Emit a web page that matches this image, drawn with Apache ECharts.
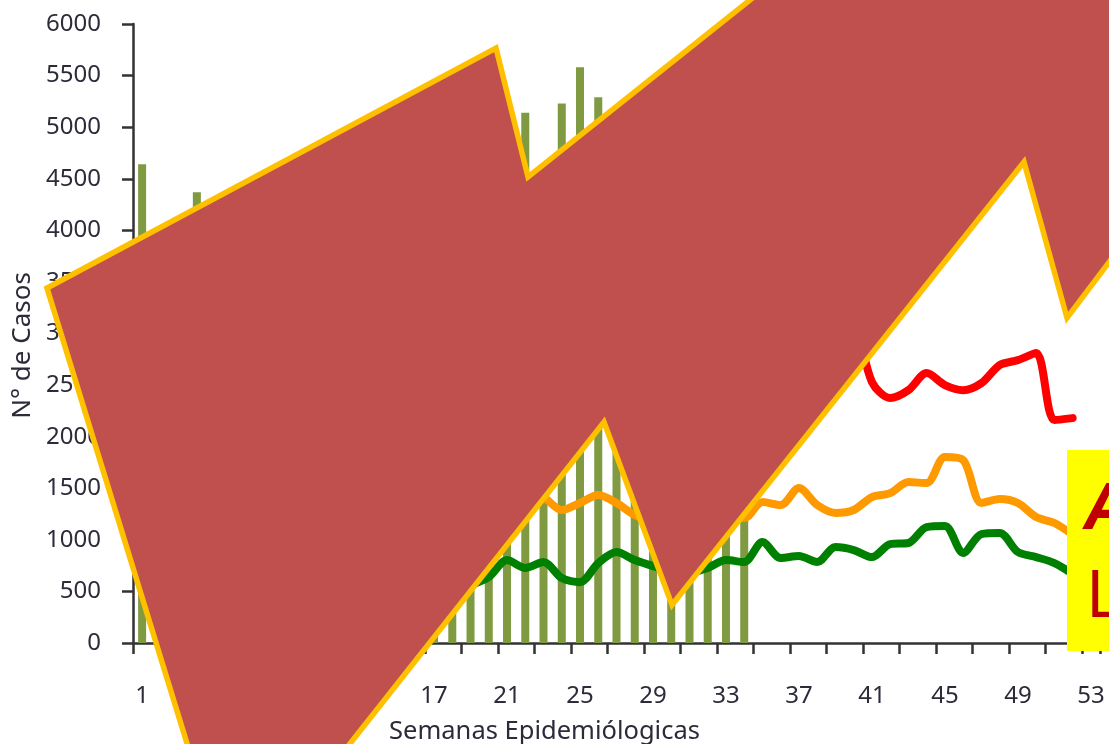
<!DOCTYPE html>
<html>
<head>
<meta charset="utf-8">
<style>html,body{margin:0;padding:0;background:#fff;overflow:hidden}#chart{width:1109px;height:744px}</style>
<script src="https://cdn.jsdelivr.net/npm/echarts@6/dist/echarts.min.js"></script>
</head>
<body>
<div id="chart"></div>
<script>
// Epidemiological weeks 1-53
const weeks = Array.from({length: 53}, (_, i) => String(i + 1));

// Weekly case counts (bars stop at week 34)
const casos = [4640, 3900, 3750, 4370, 3900, 3800, 3700, 3650, 3600, 3550, 3600, 3700, 3800, 3900, 4000, 4100, 4200,
  4300, 4400, 4600, 4850, 5140, 4600, 5230, 5580, 5290, 4800, 4400, 4100, 3700, 3300, 2900, 2500, 2100];

// Epidemic channel curves, weeks where they are drawn; blank elsewhere
const zonaExito = [null, null, null, null, null, null, null, null, null, null, null, null, null, null, null, null, null, null,
  560, 640, 804, 727, 785, 630, 590, 775, 882, 804, 746, 700, 680, 727, 804, 785,
  979, 824, 843, 785, 930, 901, 833, 959, 969, 1124, 1134, 872, 1056, 1066, 882, 833, 775, 670];
const zonaSeguridad = [null, null, null, null, null, null, null, null, null, null, null, null, null, null, null, null, null, null, null, null, null,
  1500, 1415, 1289, 1357, 1434, 1357, 1240, 1170, 1120, 1090, 1130, 1211, 1211,
  1366, 1337, 1502, 1337, 1260, 1289, 1415, 1453, 1560, 1550, 1802, 1773, 1357, 1395, 1357, 1221, 1163, 1050];
const zonaAlarma = [null, null, null, null, null, null, null, null, null, null, null, null, null, null, null, null, null, null, null, null,
  null, null, null, null, null, null, null, null, null, null, null, null, null, null, null, null, null, null,
  3300, 3150, 2530, 2374, 2451, 2616, 2500, 2451, 2519, 2694, 2742, 2810, 2161, 2180];

const font = '"Noto Sans", sans-serif';
const ink = '#2b2b3a';

const arrowOutline = [[47, 288], [496, 48], [528, 177], [760, -8], [1125, -8], [1125, 241], [1067, 318],
  [1024, 162], [672, 605], [604, 422], [345, 750], [189, 750]];

function curve(name, data, color) {
  return {
    name, type: 'line', data, smooth: 0.3, symbol: 'none', z: 3,
    connectNulls: false,
    lineStyle: {color, width: 8, cap: 'round', join: 'round'}
  };
}

const chart = echarts.init(document.getElementById('chart'), null, {renderer: 'canvas'});
chart.setOption({
  animation: false,
  backgroundColor: '#ffffff',
  grid: {left: 133, right: 9, top: 24, bottom: 101, outerBoundsMode: 'none'},
  xAxis: {
    type: 'category', data: weeks, boundaryGap: true,
    name: 'Semanas Epidemiólogicas', nameLocation: 'middle', nameGap: 76,
    nameTextStyle: {fontFamily: font, fontSize: 25.5, color: ink, padding: [0, 144, 0, 0]},
    axisLine: {show: true, lineStyle: {color: '#333', width: 2.5}},
    axisTick: {show: true, interval: 1, length: 11, lineStyle: {color: '#333', width: 2.5}},
    axisLabel: {show: true, interval: 3, margin: 41, fontFamily: font, fontSize: 24, color: ink},
    splitLine: {show: false}
  },
  yAxis: {
    type: 'value', min: 0, max: 6000, interval: 500,
    name: 'N° de Casos', nameLocation: 'middle', nameGap: 93,
    nameTextStyle: {fontFamily: font, fontSize: 26, color: ink, padding: [0, 24, 0, 0]},
    axisLine: {show: true, onZero: false, lineStyle: {color: '#333', width: 2.5}},
    axisTick: {show: true, length: 11, lineStyle: {color: '#333', width: 2.5}},
    axisLabel: {margin: 32, fontFamily: font, fontSize: 24, color: ink, formatter: v => String(v)},
    splitLine: {show: false}
  },
  series: [
    {name: 'Casos', type: 'bar', data: casos, barWidth: 8, z: 2, itemStyle: {color: '#7f9a41'}},
    curve('Alarma', zonaAlarma, '#ff0000'),
    curve('Seguridad', zonaSeguridad, '#ff9900'),
    curve('Éxito', zonaExito, '#008000')
  ],
  graphic: {elements: [
    {type: 'polygon', z: 50, shape: {points: arrowOutline},
      style: {fill: '#c0504d', stroke: '#ffc000', lineWidth: 5.5, lineJoin: 'miter'}},
    {type: 'rect', z: 60, shape: {x: 1067, y: 450, width: 42, height: 201}, style: {fill: '#ffff00'}},
    {type: 'text', z: 61, x: 1086, y: 478,
      style: {text: 'A', fontFamily: font, fontSize: 65, fontWeight: 'bold', fontStyle: 'italic', fill: '#c00000'}},
    {type: 'text', z: 61, x: 1086, y: 566,
      style: {text: 'L', fontFamily: font, fontSize: 65, fill: '#c00000'}}
  ]}
});
</script>
</body>
</html>
